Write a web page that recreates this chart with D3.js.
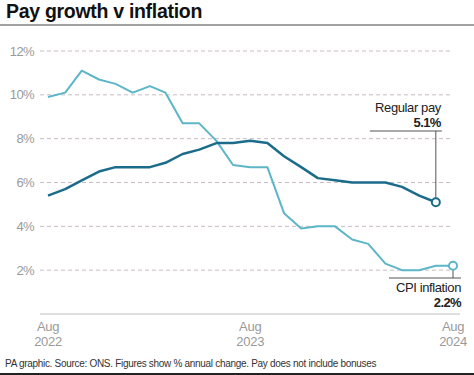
<!DOCTYPE html>
<html>
<head>
<meta charset="utf-8">
<script src="https://cdn.jsdelivr.net/npm/d3@7"></script>
<style>
  html, body { margin: 0; padding: 0; background: #fff; }
  svg { display: block; font-family: "Liberation Sans", Arial, sans-serif; }
</style>
</head>
<body>
<svg id="chart" width="474" height="375"></svg>
<script>
// ---- Data ----
const cpiMonths = ["2022-08","2022-09","2022-10","2022-11","2022-12","2023-01","2023-02","2023-03","2023-04","2023-05","2023-06","2023-07","2023-08","2023-09","2023-10","2023-11","2023-12","2024-01","2024-02","2024-03","2024-04","2024-05","2024-06","2024-07","2024-08"];
const cpiValues = [9.9,10.1,11.1,10.7,10.5,10.1,10.4,10.1,8.7,8.7,7.9,6.8,6.7,6.7,4.6,3.9,4.0,4.0,3.4,3.2,2.3,2.0,2.0,2.2,2.2];
const payMonths = cpiMonths.slice(0, 24);
const payValues = [5.4,5.7,6.1,6.5,6.7,6.7,6.7,6.9,7.3,7.5,7.8,7.8,7.9,7.8,7.2,6.7,6.2,6.1,6.0,6.0,6.0,5.8,5.4,5.1];
const yTicks = [2,4,6,8,10,12];
const xTicks = ["2022-08","2023-08","2024-08"];
const xTickLabels = [["Aug","2022"],["Aug","2023"],["Aug","2024"]];

const payColor = "#1b6b8b";
const cpiColor = "#5db6c8";

const parse = d3.timeParse("%Y-%m");
const svg = d3.select("#chart");

// Title
svg.append("text").attr("x", 6).attr("y", 18)
  .attr("font-size", 19.5).attr("font-weight", 700).attr("fill", "#111")
  .attr("letter-spacing", -0.3)
  .text("Pay growth v inflation");
svg.append("line").attr("x1", 0).attr("x2", 474).attr("y1", 25).attr("y2", 25)
  .attr("stroke", "#444").attr("stroke-width", 1.2);

const x = d3.scaleTime().domain([parse("2022-08"), parse("2024-08")]).range([48, 453]);
const y = d3.scaleLinear().domain([0, 12]).range([314, 51]);

// Gridlines
const grid = svg.append("g");
grid.selectAll("line").data(yTicks).join("line")
  .attr("x1", 40).attr("x2", 453)
  .attr("y1", d => y(d)).attr("y2", d => y(d))
  .attr("stroke", "#c9bcc4").attr("stroke-width", 1).attr("stroke-dasharray", "4,3");
grid.selectAll("text").data(yTicks).join("text")
  .attr("x", 34).attr("y", d => y(d) + 4.5)
  .attr("text-anchor", "end").attr("font-size", 13).attr("fill", "#9a9a9a")
  .attr("letter-spacing", -0.6)
  .text(d => d + "%");

// X axis baseline
svg.append("line").attr("x1", 40).attr("x2", 460).attr("y1", y(0)).attr("y2", y(0))
  .attr("stroke", "#d4d4d4").attr("stroke-width", 1.5);
const xt = svg.append("g").selectAll("text").data(xTicks).join("text")
  .attr("text-anchor", "middle").attr("font-size", 13).attr("fill", "#9a9a9a")
  .attr("letter-spacing", -0.3);
xt.each(function(d, i) {
  const t = d3.select(this);
  t.append("tspan").attr("x", x(parse(d))).attr("y", 331).text(xTickLabels[i][0]);
  t.append("tspan").attr("x", x(parse(d))).attr("y", 346).text(xTickLabels[i][1]);
});

// Lines
const line = d3.line().x(d => x(d[0])).y(d => y(d[1]));
const cpiData = cpiMonths.map((m, i) => [parse(m), cpiValues[i]]);
const payData = payMonths.map((m, i) => [parse(m), payValues[i]]);

svg.append("path").datum(cpiData).attr("d", line)
  .attr("fill", "none").attr("stroke", cpiColor).attr("stroke-width", 2).attr("stroke-linejoin", "round");
svg.append("path").datum(payData).attr("d", line)
  .attr("fill", "none").attr("stroke", payColor).attr("stroke-width", 2.5).attr("stroke-linejoin", "round");

// Annotations
const payLast = payData[payData.length - 1];
const cpiLast = cpiData[cpiData.length - 1];
const px = x(payLast[0]), py = y(payLast[1]);
const cx = x(cpiLast[0]), cy = y(cpiLast[1]);

svg.append("line").attr("x1", px - 66).attr("x2", px + 6).attr("y1", 131).attr("y2", 131)
  .attr("stroke", "#555").attr("stroke-width", 1);
svg.append("line").attr("x1", px).attr("x2", px).attr("y1", 131).attr("y2", py - 4)
  .attr("stroke", "#555").attr("stroke-width", 1);
svg.append("text").attr("x", px + 5).attr("y", 112).attr("text-anchor", "end")
  .attr("font-size", 13).attr("fill", "#222").attr("letter-spacing", -0.4).text("Regular pay");
svg.append("text").attr("x", px + 5).attr("y", 127).attr("text-anchor", "end")
  .attr("font-size", 13).attr("font-weight", 700).attr("fill", "#222").attr("letter-spacing", -0.6)
  .text(payLast[1].toFixed(1) + "%");

svg.append("line").attr("x1", cx - 64).attr("x2", cx + 8).attr("y1", 278).attr("y2", 278)
  .attr("stroke", "#555").attr("stroke-width", 1);
svg.append("line").attr("x1", cx).attr("x2", cx).attr("y1", cy + 4).attr("y2", 278)
  .attr("stroke", "#555").attr("stroke-width", 1);
svg.append("text").attr("x", cx + 8).attr("y", 292).attr("text-anchor", "end")
  .attr("font-size", 13).attr("fill", "#222").attr("letter-spacing", -0.4).text("CPI inflation");
svg.append("text").attr("x", cx + 8).attr("y", 307).attr("text-anchor", "end")
  .attr("font-size", 13).attr("font-weight", 700).attr("fill", "#222").attr("letter-spacing", -0.6)
  .text(cpiLast[1].toFixed(1) + "%");

svg.append("circle").attr("cx", px).attr("cy", py).attr("r", 4)
  .attr("fill", "#fff").attr("stroke", payColor).attr("stroke-width", 2);
svg.append("circle").attr("cx", cx).attr("cy", cy).attr("r", 4)
  .attr("fill", "#fff").attr("stroke", cpiColor).attr("stroke-width", 2);

// Footer
svg.append("text").attr("x", 5).attr("y", 367).attr("font-size", 10).attr("fill", "#333")
  .attr("letter-spacing", -0.3)
  .text("PA graphic. Source: ONS. Figures show % annual change. Pay does not include bonuses");
svg.append("rect").attr("x", 0).attr("y", 373).attr("width", 474).attr("height", 2).attr("fill", "#222");
</script>
</body>
</html>
